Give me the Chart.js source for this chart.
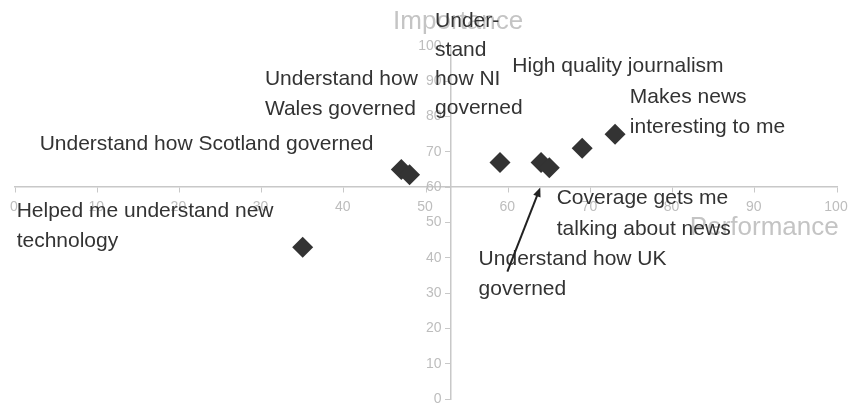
<!DOCTYPE html>
<html>
<head>
<meta charset="utf-8">
<script src="https://cdn.jsdelivr.net/npm/chart.js@4/dist/chart.umd.min.js"></script>
<style>
  html, body { margin: 0; padding: 0; background: #fff; }
  #wrap { position: relative; width: 851px; height: 404px; }
</style>
</head>
<body>
<div id="wrap"><canvas id="quad-chart"></canvas></div>
<script>
// Performance vs importance (scatter, axes crossing in the middle)

const itemNames = [
    'Helped me understand new technology',
    'Understand how Wales governed',
    'Understand how Scotland governed',
    'Understand how NI governed',
    'Understand how UK governed',
    'Coverage gets me talking about news',
    'High quality journalism',
    'Makes news interesting to me'
];
const performance = [35, 47, 48, 59, 64, 65, 69, 73];
const importance = [43, 65, 63.5, 67, 67, 65.5, 71, 75];

const xTitle = 'Performance';
const yTitle = 'Importance';

// where the axes cross each other
const xCross = 53;
const yCross = 60;

// labels written on the chart (position in data units, first line baseline)
const notes = [
    {lines: ['Under-', 'stand', 'how NI', 'governed'], x: 51.1, y: 105.4, gap: 29},
    {lines: ['Understand how', 'Wales governed'], x: 30.4, y: 89.0},
    {lines: ['Understand how Scotland governed'], x: 3.0, y: 70.5},
    {lines: ['High quality journalism'], x: 60.5, y: 92.6},
    {lines: ['Makes news', 'interesting to me'], x: 74.8, y: 83.9},
    {lines: ['Helped me understand new', 'technology'], x: 0.2, y: 51.6},
    {lines: ['Coverage gets me', 'talking about news'], x: 65.9, y: 55.2},
    {lines: ['Understand how UK', 'governed'], x: 56.4, y: 38.0}
];
const arrow = {from: [59.9, 36.1], to: [63.9, 59.9]};

const FONT = "'Liberation Sans', Arial, sans-serif";
const AXIS_GREY = '#c8c8c8';
const TICK_GREY = '#bdbdbd';
const INK = '#333333';

const points = performance.map((p, i) => ({x: p, y: importance[i], name: itemNames[i]}));

// tick labels next to the crossing axes (taken from the scales' own ticks)
const tickLabelsPlugin = {
    id: 'tickLabels',
    afterDraw(chart) {
        const {ctx, scales} = chart;
        const sx = scales.x, sy = scales.y;
        const axisX = sx.getPixelForValue(xCross);
        const axisY = sy.getPixelForValue(yCross);
        ctx.save();
        ctx.fillStyle = TICK_GREY;
        ctx.font = '14px ' + FONT;
        ctx.textBaseline = 'middle';
        ctx.textAlign = 'right';
        sy.ticks.forEach(t => {
            ctx.fillText(String(t.value), axisX - 9, sy.getPixelForValue(t.value));
        });
        ctx.textAlign = 'center';
        sx.ticks.forEach(t => {
            ctx.fillText(String(t.value), sx.getPixelForValue(t.value) - 1, axisY + 20);
        });
        ctx.restore();
    }
};

// titles, free labels and the arrow
const notesPlugin = {
    id: 'notes',
    afterDraw(chart) {
        const {ctx, scales} = chart;
        const sx = scales.x, sy = scales.y;
        ctx.save();

        // axis titles
        ctx.fillStyle = '#c4c4c4';
        ctx.font = '26px ' + FONT;
        ctx.textAlign = 'left';
        ctx.textBaseline = 'alphabetic';
        ctx.fillText(yTitle, sx.getPixelForValue(46.0), sy.getPixelForValue(104.8));
        ctx.fillText(xTitle, sx.getPixelForValue(82.1), sy.getPixelForValue(46.5));

        // labels
        ctx.fillStyle = INK;
        ctx.font = '21px ' + FONT;
        notes.forEach(n => {
            const left = sx.getPixelForValue(n.x);
            const base = sy.getPixelForValue(n.y);
            const gap = n.gap || 30.5;
            n.lines.forEach((t, k) => ctx.fillText(t, left, base + k * gap));
        });

        // arrow
        const x1 = sx.getPixelForValue(arrow.from[0]), y1 = sy.getPixelForValue(arrow.from[1]);
        const x2 = sx.getPixelForValue(arrow.to[0]), y2 = sy.getPixelForValue(arrow.to[1]);
        const ang = Math.atan2(y2 - y1, x2 - x1);
        ctx.strokeStyle = '#222';
        ctx.fillStyle = '#222';
        ctx.lineWidth = 2;
        ctx.beginPath();
        ctx.moveTo(x1, y1);
        ctx.lineTo(x2 - 6 * Math.cos(ang), y2 - 6 * Math.sin(ang));
        ctx.stroke();
        ctx.beginPath();
        ctx.moveTo(x2, y2);
        ctx.lineTo(x2 - 10 * Math.cos(ang - 0.4), y2 - 10 * Math.sin(ang - 0.4));
        ctx.lineTo(x2 - 10 * Math.cos(ang + 0.4), y2 - 10 * Math.sin(ang + 0.4));
        ctx.closePath();
        ctx.fill();

        ctx.restore();
    }
};

const ctx = document.getElementById('quad-chart');
new Chart(ctx, {
    type: 'scatter',
    data: {
        datasets: [{
            label: 'Items',
            data: points,
            pointStyle: 'rectRot',
            pointRadius: 10.5,
            pointHoverRadius: 10.5,
            backgroundColor: INK,
            borderColor: INK,
            borderWidth: 0
        }]
    },
    options: {
        responsive: true,
        maintainAspectRatio: false,
        animation: false,
        layout: {
            autoPadding: false,
            padding: {left: 15, right: 14, top: 46, bottom: 5}
        },
        plugins: {
            legend: {display: false},
            tooltip: {enabled: false}
        },
        scales: {
            x: {
                type: 'linear',
                min: 0,
                max: 100,
                position: {y: yCross},
                border: {display: true, color: AXIS_GREY, width: 1.5},
                grid: {display: true, drawOnChartArea: false, drawTicks: true, tickLength: 5, color: AXIS_GREY},
                ticks: {stepSize: 10, display: false}
            },
            y: {
                type: 'linear',
                min: 0,
                max: 100,
                position: {x: xCross},
                border: {display: true, color: AXIS_GREY, width: 1.5},
                grid: {display: true, drawOnChartArea: false, drawTicks: true, tickLength: 5, color: AXIS_GREY},
                ticks: {stepSize: 10, display: false}
            }
        }
    },
    plugins: [tickLabelsPlugin, notesPlugin]
});
</script>
</body>
</html>
